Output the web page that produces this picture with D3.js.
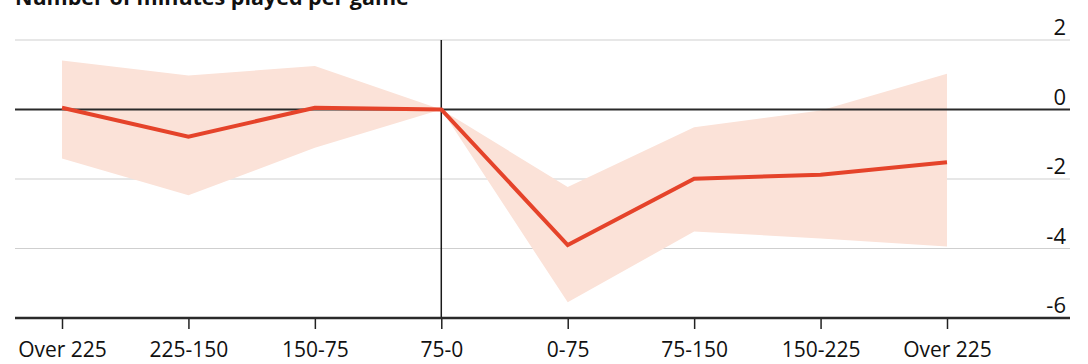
<!DOCTYPE html>
<html><head><meta charset="utf-8">
<script src="https://cdn.jsdelivr.net/npm/d3@7"></script>
<style>body{margin:0;background:#fff;}svg{display:block;}</style>
</head><body>
<svg id="c" width="1088" height="364"></svg>
<script>
const title = "Number of minutes played per game";
const categories = ["Over 225a","225-150","150-75","75-0","0-75","75-150","150-225","Over 225b"];
const categoryLabels = ["Over 225","225-150","150-75","75-0","0-75","75-150","150-225","Over 225"];
const estimate = [0.05,-0.78,0.05,0,-3.9,-1.99,-1.88,-1.52];
const upper = [1.41,0.98,1.25,0,-2.23,-0.51,-0.03,1.03];
const lower = [-1.41,-2.47,-1.1,0,-5.55,-3.51,-3.71,-3.94];
const yTicks = [2,0,-2,-4,-6];

const svg = d3.select("#c");
const x = d3.scalePoint().domain(categories).range([62,947]);
const y = d3.scaleLinear().domain([-6,2]).range([318,40]);
const gx0 = 15, gx1 = 1070;

svg.append("text").attr("x",15).attr("y",5).text(title)
  .attr("font-family","Open Sans").attr("font-weight","bold").attr("font-size",21.5).attr("fill","#111");

// gridlines
svg.append("g").selectAll("line").data(yTicks.filter(d=>d!==0&&d!==-6)).join("line")
  .attr("x1",gx0).attr("x2",gx1).attr("y1",d=>y(d)).attr("y2",d=>y(d))
  .attr("stroke","#cfcfcf").attr("stroke-width",1.2);

// band
const idx = d3.range(categories.length);
svg.append("path").datum(idx)
  .attr("d", d3.area().x(i=>x(categories[i])).y0(i=>y(lower[i])).y1(i=>y(upper[i])))
  .attr("fill","#fbe2d8");

// zero line
svg.append("line").attr("x1",gx0).attr("x2",gx1).attr("y1",y(0)).attr("y2",y(0))
  .attr("stroke","#2a2a2a").attr("stroke-width",2);

// vertical line at 75-0
svg.append("line").attr("x1",x("75-0")).attr("x2",x("75-0")).attr("y1",y(2)).attr("y2",y(-6))
  .attr("stroke","#1a1a1a").attr("stroke-width",1.5);

// estimate line
svg.append("path").datum(idx)
  .attr("d", d3.line().x(i=>x(categories[i])).y(i=>y(estimate[i])))
  .attr("fill","none").attr("stroke","#e5432a").attr("stroke-width",4).attr("stroke-linejoin","miter");

// bottom axis
const xAxis = d3.axisBottom(x).tickSize(11).tickPadding(0).tickFormat((d,i)=>categoryLabels[i]);
const ga = svg.append("g").attr("transform",`translate(0,${y(-6)})`).call(xAxis);
ga.select(".domain").remove();
ga.selectAll(".tick line").attr("stroke","#222").attr("stroke-width",1.5);
ga.selectAll(".tick text").attr("font-family","Open Sans").attr("font-size",21).attr("fill","#111")
  .attr("dy",null).attr("y",39);
svg.append("line").attr("x1",gx0).attr("x2",gx1).attr("y1",y(-6)).attr("y2",y(-6))
  .attr("stroke","#2a2a2a").attr("stroke-width",2.5);

// y labels
svg.append("g").selectAll("text").data(yTicks).join("text")
  .attr("x",1066).attr("y",d=>y(d)-5).attr("text-anchor","end")
  .attr("font-family","Open Sans").attr("font-size",22).attr("fill","#111")
  .text(d=>d);
</script>
</body></html>
